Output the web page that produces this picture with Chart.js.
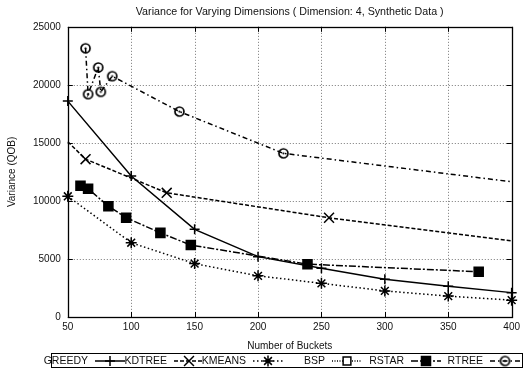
<!DOCTYPE html>
<html>
<head>
<meta charset="utf-8">
<script src="https://cdn.jsdelivr.net/npm/chart.js@4.4.1/dist/chart.umd.min.js"></script>
<style>
  body { margin: 0; background: #fff; }
  #varChart { display: block; }
</style>
</head>
<body>
<canvas id="varChart" width="524" height="369"></canvas>
<script>
// bucket counts and variance per method
const names = ['GREEDY', 'KDTREE', 'KMEANS', 'BSP', 'RSTAR', 'RTREE'];

const greedyBuckets = [50, 100, 150, 200, 250, 300, 350, 400];
const greedyVar = [18600, 12150, 7550, 5200, 4200, 3250, 2650, 2100];

const kdtreeBuckets = [50, 64, 128, 256, 400];
const kdtreeVar = [15100, 13600, 10700, 8550, 6550];

const kmeansBuckets = [50, 100, 150, 200, 250, 300, 350, 400];
const kmeansVar = [10400, 6400, 4600, 3550, 2900, 2250, 1800, 1450];

const bspBuckets = [];
const bspVar = [];

const rstarBuckets = [60, 66, 82, 96, 123, 147, 239, 374];
const rstarVar = [11300, 11050, 9550, 8550, 7250, 6200, 4550, 3900];

const rtreeBuckets = [64, 66, 74, 76, 85, 138, 220, 400];
const rtreeVar = [23150, 19200, 21500, 19400, 20750, 17700, 14100, 11650];

const xTicks = [50, 100, 150, 200, 250, 300, 350, 400];
const yTicks = [0, 5000, 10000, 15000, 20000, 25000];

const FONT = 'Liberation Sans, Arial, Helvetica, sans-serif';

function pts(xs, ys) {
  return xs.map((x, i) => ({ x: x, y: ys[i] }));
}

// circle with a dot in the middle
function circleDot() {
  const c = document.createElement('canvas');
  c.width = 13; c.height = 13;
  const g = c.getContext('2d');
  g.strokeStyle = '#000';
  g.lineWidth = 1.7;
  g.beginPath();
  g.arc(6.5, 6.5, 4.5, 0, Math.PI * 2);
  g.stroke();
  g.fillStyle = '#000';
  g.beginPath();
  g.arc(6.5, 6.5, 1.1, 0, Math.PI * 2);
  g.fill();
  return c;
}

function series(label, data, dash, style, radius, fill) {
  return {
    label: label,
    data: data,
    borderColor: '#000',
    backgroundColor: fill,
    borderWidth: 1.5,
    borderDash: dash,
    pointStyle: style,
    pointRadius: radius,
    pointBorderWidth: 1.5,
    pointBorderColor: '#000',
    pointBackgroundColor: fill,
    tension: 0,
    clip: false
  };
}

// open ends: lines that continue past the frame carry no marker there
const kdRadius = kdtreeBuckets.map((b, i) => (i === 0 || i === kdtreeBuckets.length - 1) ? 0 : 7);
const rtRadius = rtreeBuckets.map((b, i) => (i === rtreeBuckets.length - 1) ? 0 : 5);

const datasets = [
  series(names[0], pts(greedyBuckets, greedyVar), [], 'cross', 5, '#000'),
  series(names[1], pts(kdtreeBuckets, kdtreeVar), [4, 2], 'crossRot', kdRadius, '#000'),
  series(names[2], pts(kmeansBuckets, kmeansVar), [1.5, 2.5], 'star', 5.5, '#000'),
  series(names[3], pts(bspBuckets, bspVar), [1, 1.5], 'rect', 5.5, '#fff'),
  series(names[4], pts(rstarBuckets, rstarVar), [7, 2, 2, 2], 'rect', 6.4, '#000'),
  series(names[5], pts(rtreeBuckets, rtreeVar), [5, 3, 1.5, 3], circleDot(), rtRadius, '#000')
];

// dotted grid, frame, inner ticks and the boxed key under the axis title
const gnuKey = {
  id: 'gnuKey',
  beforeDatasetsDraw(chart) {
    const ctx = chart.ctx;
    const a = chart.chartArea;
    const xs = chart.scales.x, ys = chart.scales.y;
    ctx.save();
    ctx.strokeStyle = '#777';
    ctx.lineWidth = 1;
    ctx.setLineDash([1, 2]);
    ctx.beginPath();
    xTicks.slice(1, -1).forEach(t => {
      const px = Math.round(xs.getPixelForValue(t)) + 0.5;
      ctx.moveTo(px, a.top); ctx.lineTo(px, a.bottom);
    });
    yTicks.slice(1, -1).forEach(t => {
      const py = Math.round(ys.getPixelForValue(t)) + 0.5;
      ctx.moveTo(a.left, py); ctx.lineTo(a.right, py);
    });
    ctx.stroke();

    ctx.strokeStyle = '#000';
    ctx.setLineDash([]);
    ctx.beginPath();
    xTicks.forEach(t => {
      const px = Math.round(xs.getPixelForValue(t)) + 0.5;
      ctx.moveTo(px, a.bottom); ctx.lineTo(px, a.bottom - 5);
      ctx.moveTo(px, a.top); ctx.lineTo(px, a.top + 5);
    });
    yTicks.forEach(t => {
      const py = Math.round(ys.getPixelForValue(t)) + 0.5;
      ctx.moveTo(a.left, py); ctx.lineTo(a.left + 5, py);
      ctx.moveTo(a.right, py); ctx.lineTo(a.right - 5, py);
    });
    ctx.stroke();
    ctx.lineWidth = 1.3;
    ctx.strokeRect(Math.round(a.left) + 0.5, Math.round(a.top) + 0.5,
      Math.round(a.right - a.left), Math.round(a.bottom - a.top));
    ctx.restore();
  },
  afterDraw(chart) {
    const ctx = chart.ctx;
    const cy = chart.height - 8;
    ctx.save();
    ctx.strokeStyle = '#000';
    ctx.lineWidth = 1;
    ctx.setLineDash([]);
    ctx.strokeRect(51.5, cy - 7.5, 471, 14);
    ctx.font = '10.5px ' + FONT;
    ctx.fillStyle = '#111';
    ctx.textAlign = 'right';
    ctx.textBaseline = 'middle';
    chart.data.datasets.forEach((ds, i) => {
      const textEnd = 88 + 79 * i;
      ctx.fillText(ds.label, textEnd, cy + 0.5);
      const x0 = textEnd + 7, x1 = textEnd + 37;
      ctx.lineWidth = ds.borderWidth;
      ctx.setLineDash(ds.borderDash);
      ctx.beginPath();
      ctx.moveTo(x0, cy); ctx.lineTo(x1, cy);
      ctx.stroke();
      ctx.setLineDash([]);
      ctx.fillStyle = ds.pointBackgroundColor;
      ctx.lineWidth = 1.5;
      const r = Array.isArray(ds.pointRadius) ? Math.max(...ds.pointRadius) : ds.pointRadius;
      Chart.helpers.drawPoint(ctx, { pointStyle: ds.pointStyle, radius: r, rotation: 0, borderWidth: 1.5 }, (x0 + x1) / 2, cy);
      ctx.fillStyle = '#111';
    });
    ctx.restore();
  }
};

new Chart(document.getElementById('varChart'), {
  type: 'line',
  data: { datasets: datasets },
  options: {
    responsive: false,
    animation: false,
    devicePixelRatio: 1,
    layout: { padding: { left: 6, right: 11, top: 0, bottom: 17 } },
    plugins: {
      legend: { display: false },
      tooltip: { enabled: false },
      title: {
        display: true,
        fullSize: false,
        text: 'Variance for Varying Dimensions ( Dimension: 4, Synthetic Data )',
        color: '#111',
        font: { family: FONT, size: 10.7, weight: 'normal' },
        padding: { top: 6, bottom: 8 }
      }
    },
    scales: {
      x: {
        type: 'linear',
        min: 50,
        max: 400,
        afterBuildTicks: s => { s.ticks = xTicks.map(v => ({ value: v })); },
        ticks: { color: '#111', font: { family: FONT, size: 10 }, padding: 4, maxRotation: 0,
          callback: v => String(v) },
        grid: { display: false, drawTicks: false },
        border: { display: false },
        title: {
          display: true,
          text: 'Number of Buckets',
          color: '#111',
          font: { family: FONT, size: 10 },
          padding: { top: 3, bottom: 0 }
        }
      },
      y: {
        min: 0,
        max: 25000,
        afterBuildTicks: s => { s.ticks = yTicks.map(v => ({ value: v })); },
        ticks: { color: '#111', font: { family: FONT, size: 10 }, padding: 7,
          callback: v => String(v) },
        grid: { display: false, drawTicks: false },
        border: { display: false },
        title: {
          display: true,
          text: 'Variance (QOB)',
          color: '#111',
          font: { family: FONT, size: 10 },
          padding: { top: 0, bottom: 8 }
        }
      }
    }
  },
  plugins: [gnuKey]
});
</script>
</body>
</html>
